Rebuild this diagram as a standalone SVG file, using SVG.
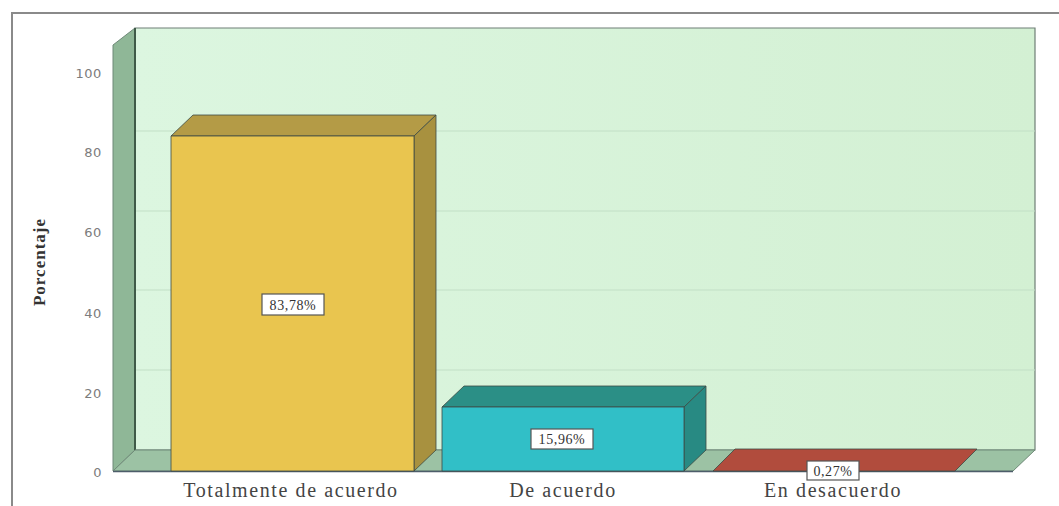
<svg xmlns="http://www.w3.org/2000/svg" width="1059" height="506" viewBox="0 0 1059 506">
<defs>
<style>
.tick{font-family:"DejaVu Sans","Liberation Sans",sans-serif;font-size:13px;fill:#7c7c7c;text-anchor:end;letter-spacing:0.6px}
.cat{font-family:"Liberation Serif","Times New Roman",serif;font-size:20px;fill:#444;text-anchor:middle;letter-spacing:1.6px}
.val{font-family:"Liberation Serif","Times New Roman",serif;font-size:14px;fill:#333;text-anchor:middle;letter-spacing:0.6px}
.box{fill:#ffffff;stroke:#555;stroke-width:1.2}
.grid{stroke:#c2dfc6;stroke-width:1}
.edge{stroke:#3c4a44;stroke-width:0.8;stroke-linejoin:round}
</style>
<linearGradient id="wall" x1="0" y1="0" x2="1" y2="0">
<stop offset="0" stop-color="#dcf6e0"/>
<stop offset="1" stop-color="#d3f0d3"/>
</linearGradient>
</defs>
<rect width="1059" height="506" fill="#ffffff"/>
<g id="frame">
<polyline points="12,506 12,13 1059,13" fill="none" stroke="#8a8a8a" stroke-width="2"/>
</g>
<g id="axes">
<polygon points="135,28 1035,28 1035,450 135,450" fill="url(#wall)" stroke="#6f7f76" stroke-width="1.2"/>
<line class="grid" x1="135" y1="131" x2="1035" y2="131"/>
<line class="grid" x1="135" y1="211" x2="1035" y2="211"/>
<line class="grid" x1="135" y1="290" x2="1035" y2="290"/>
<line class="grid" x1="135" y1="370" x2="1035" y2="370"/>
<polygon points="113,45 135,28 135,450 113,471" fill="#8fb797" stroke="#6f8a78" stroke-width="1"/>
<line x1="135" y1="28" x2="135" y2="450" stroke="#3f5a48" stroke-width="2"/>
<polygon points="113,471 135,450 1035,450 1013,471" fill="#9cc2a4" stroke="#6f8a78" stroke-width="1"/>
<line x1="113" y1="471.5" x2="1013" y2="471.5" stroke="#4d5d6a" stroke-width="1.5"/>
<text class="tick" x="102" y="78">100</text>
<text class="tick" x="102" y="157">80</text>
<text class="tick" x="102" y="237">60</text>
<text class="tick" x="102" y="318">40</text>
<text class="tick" x="102" y="398">20</text>
<text class="tick" x="102" y="477">0</text>
<text x="0" y="0" transform="translate(45,262) rotate(-90)" font-family="Liberation Serif,'Times New Roman',serif" font-size="17" font-weight="bold" fill="#333" text-anchor="middle" letter-spacing="1">Porcentaje</text>
</g>
<g id="bar-totalmente">
<polygon class="edge" points="171,136 193,115 436,115 414,136" fill="#b49b46"/>
<polygon class="edge" points="414,136 436,115 436,450 414,471" fill="#a8913f"/>
<rect class="edge" x="171" y="136" width="243" height="335" fill="#e9c54f"/>
<rect class="box" x="262" y="294" width="62" height="21"/>
<text class="val" x="293" y="309.5">83,78%</text>
<text class="cat" x="291" y="497">Totalmente de acuerdo</text>
</g>
<g id="bar-de-acuerdo">
<polygon class="edge" points="442,407 464,386 706,386 684,407" fill="#2b8f86"/>
<polygon class="edge" points="684,407 706,386 706,450 684,471" fill="#288a83"/>
<rect class="edge" x="442" y="407" width="242" height="64" fill="#31bfc7"/>
<rect class="box" x="531" y="429" width="62" height="20"/>
<text class="val" x="562" y="444">15,96%</text>
<text class="cat" x="563" y="497">De acuerdo</text>
</g>
<g id="bar-en-desacuerdo">
<polygon class="edge" points="713,471 735,449 977,449 955,471" fill="#b14c3d"/>
<rect class="box" x="807" y="461" width="52" height="19"/>
<text class="val" x="833" y="475.5">0,27%</text>
<text class="cat" x="833" y="497">En desacuerdo</text>
</g>
<g id="connectors"/>
</svg>
